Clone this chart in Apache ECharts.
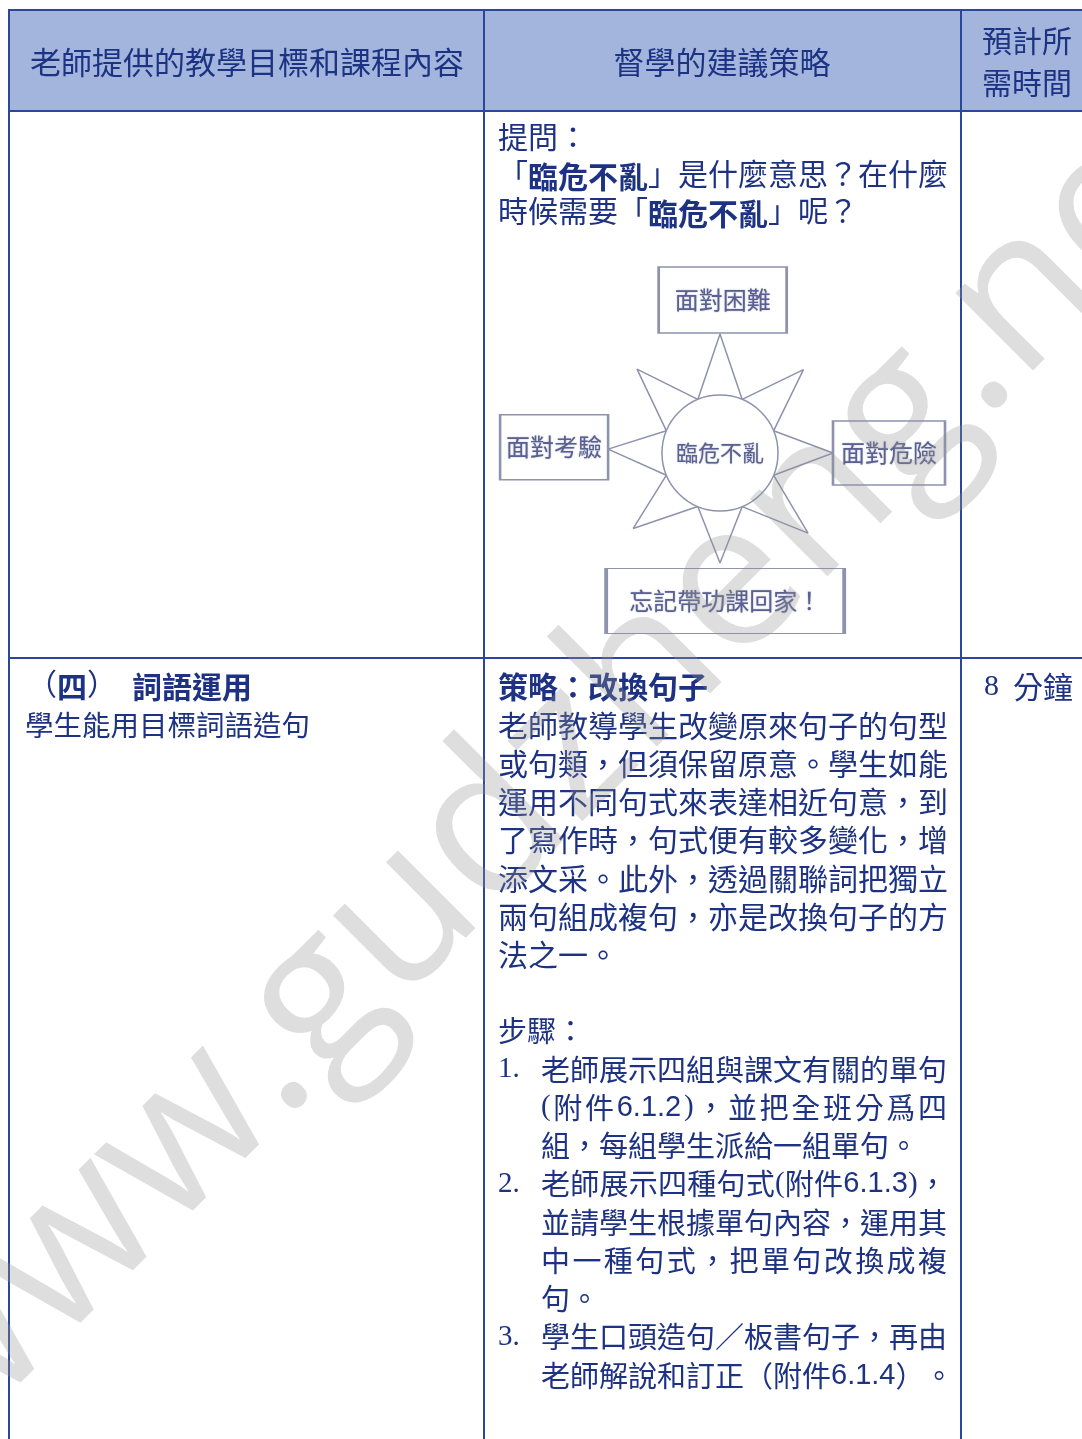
<!DOCTYPE html>
<html><head><meta charset="utf-8">
<script src="https://cdn.jsdelivr.net/npm/echarts@6/dist/echarts.min.js"></script>
<style>html,body{margin:0;padding:0;background:#fff}#c{width:1082px;height:1439px}</style>
</head><body><div id="c"></div>
<script>
// ---------------- content ----------------
const headerTitles = ['老師提供的教學目標和課程內容', '督學的建議策略'];
const headerTime = ['預計所', '需時間'];
const questionLines = ['提問：', '「{b|臨危不亂}」是什麼意思？在什麼', '時候需要「{b|臨危不亂}」呢？'];
const objectiveTitle = '（{b|四}）　{b|詞語運用}';
const objectiveText = '學生能用目標詞語造句';
const strategyTitle = '{b|策略：改換句子}';
const strategyLines = [
  '老師教導學生改變原來句子的句型',
  '或句類，但須保留原意。學生如能',
  '運用不同句式來表達相近句意，到',
  '了寫作時，句式便有較多變化，增',
  '添文采。此外，透過關聯詞把獨立',
  '兩句組成複句，亦是改換句子的方',
  '法之一。'
];
const stepsTitle = '步驟：';
const stepNumbers = ['1.', '2.', '3.'];
const stepLines = [
  ['老師展示四組與課文有關的單句', '(附件6.1.2)，並把全班分爲四', '組，每組學生派給一組單句。'],
  ['老師展示四種句式(附件6.1.3)，', '並請學生根據單句內容，運用其', '中一種句式，把單句改換成複', '句。'],
  ['學生口頭造句／板書句子，再由', '老師解說和訂正（附件6.1.4）。']
];
const timeValue = '8';
const timeUnit = '分鐘';
const centreLabel = '臨危不亂';
const situationLabels = ['面對困難', '面對考驗', '面對危險', '忘記帶功課回家！'];
const situationRadius = [153, 166, 169, 148];
const situationAngle = [89, 178, 0, 272];
const starRadius = [119, 58, 118, 58, 113, 58, 119, 58, 110, 58, 115, 58, 112, 58, 118, 58, 119];
const starAngle = [90, 67.5, 45, 22.5, 0, 337.5, 317.7, 292.5, 270, 247.5, 221, 202.5, 178, 157.5, 134.7, 112.5, 90];
const watermarkText = 'www.gudzheng.net';

// ---------------- styles / layout ----------------
const CJK = '"Noto Sans CJK TC", "Noto Sans CJK SC", sans-serif';
const SERIF = '"Liberation Serif", serif';
const SANS = '"Liberation Sans", sans-serif';
const BODY = '"Liberation Serif", "Noto Sans CJK TC", serif';
const LINE = '#2a479c';
const INK = '#1d3282';
const HEAD_INK = '#1c3384';
const HEAD_FILL = '#a4b5dd';
const DIAG = '#8d92ad';
const DIAG_TXT = '#5a6190';
const boxSizes = [[128, 66], [108, 65], [112, 64], [238, 65]];

const g = [];
function rect(x, y, w, h, fill) { g.push({type: 'rect', silent: true, z: 1, shape: {x, y, width: w, height: h}, style: {fill}}); }
function line(x1, y1, x2, y2, w) { g.push({type: 'line', silent: true, z: 5, shape: {x1, y1, x2, y2}, style: {stroke: LINE, lineWidth: w || 2}}); }
function text(t, x, y, size, opts) {
  opts = opts || {};
  const fill = opts.fill || INK;
  g.push({type: 'text', silent: true, z: 6, style: {
    text: t, x, y, fill,
    font: (opts.weight || 'normal') + ' ' + size + 'px ' + (opts.family || BODY),
    align: opts.align || 'left', verticalAlign: 'middle',
    rich: {
      b: {font: 'bold ' + size + 'px ' + CJK, fill},
      n: {font: 'normal ' + size + 'px ' + BODY, fill}
    }
  }});
}

// justified line renderer: splits a line into tokens and spreads them over a width
const mctx = document.createElement('canvas').getContext('2d');
function fontOf(tok, size) {
  if (/^[0-9.]+$/.test(tok)) return 'normal ' + size + 'px ' + SANS;
  if (/^[()]$/.test(tok)) return 'normal ' + size + 'px ' + SERIF;
  return 'normal ' + size + 'px ' + CJK;
}
function textLine(str, x, y, size, width, justify) {
  const toks = str.match(/[0-9.]+|./gu) || [];
  const ws = toks.map(t => { mctx.font = fontOf(t, size); return mctx.measureText(t).width; });
  const total = ws.reduce((a, b) => a + b, 0);
  const gap = (justify && toks.length > 1) ? (width - total) / (toks.length - 1) : 0;
  let cx = x;
  toks.forEach((t, i) => {
    g.push({type: 'text', silent: true, z: 6, style: {text: t, x: cx, y, fill: INK,
      font: fontOf(t, size), align: 'left', verticalAlign: 'middle'}});
    cx += ws[i] + gap;
  });
}

// header band
rect(9, 10, 1073, 101, HEAD_FILL);
// grid lines
line(8, 10, 1082, 10);
line(8, 111, 1082, 111);
line(8, 658, 1082, 658);
line(9, 9, 9, 1439);
line(484, 9, 484, 1439);
line(961, 9, 961, 1439);

// header text
text(headerTitles[0], 247, 62, 31, {family: CJK, align: 'center', fill: HEAD_INK});
text(headerTitles[1], 722, 62, 31, {family: CJK, align: 'center', fill: HEAD_INK});
text(headerTime[0], 982, 41, 30, {family: CJK, fill: HEAD_INK});
text(headerTime[1], 982, 83, 30, {family: CJK, fill: HEAD_INK});

// row 1
questionLines.forEach((t, i) => text(t, 498, 140 + i * 37, 30));

// row 2
const R2 = 687, LH = 38.25;
text(objectiveTitle, 27, R2, 30);
textLine(objectiveText, 25, R2 + LH, 28.5, 0, false);
text(strategyTitle, 498, R2, 30);
strategyLines.forEach((t, i) => textLine(t, 498, R2 + (i + 1) * LH, 30, 450, i < strategyLines.length - 1));
textLine(stepsTitle, 498, R2 + 9 * LH, 29, 0, false);
let li = 10;
stepLines.forEach((lines, k) => {
  text(stepNumbers[k], 498, R2 + li * LH, 29, {family: SERIF});
  lines.forEach((t, j) => { textLine(t, 541, R2 + li * LH, 29, 406, j < lines.length - 1); li++; });
});
text(timeValue, 984, R2, 30, {family: SERIF});
text(timeUnit, 1013, R2, 30, {family: CJK});

// watermark
g.push({type: 'text', silent: true, z: 100, x: -96, y: 1417, rotation: Math.PI / 4,
  style: {text: watermarkText, x: 0, y: 0, fill: 'rgba(150,150,150,0.31)',
    font: 'normal 205px "Open Sans", sans-serif', align: 'left', verticalAlign: 'middle'}});

// ---------------- diagram ----------------
const starData = starRadius.map((r, i) => [r, starAngle[i]]);
const boxData = situationLabels.map((name, i) => ({
  name, value: [situationRadius[i], situationAngle[i]], symbolSize: boxSizes[i]
}));
const diagLabel = (size) => ({show: true, position: 'inside', formatter: '{b}', color: DIAG_TXT,
  fontSize: size, fontFamily: CJK, textShadowColor: 'rgba(90,97,144,0.6)', textShadowBlur: 1.5});

const chart = echarts.init(document.getElementById('c'), null, {renderer: 'canvas'});
chart.setOption({
  animation: false,
  backgroundColor: '#ffffff',
  polar: {center: [720, 453], radius: 170},
  angleAxis: {type: 'value', min: 0, max: 360, startAngle: 0, clockwise: false,
    axisLine: {show: false}, axisTick: {show: false}, axisLabel: {show: false}, splitLine: {show: false}},
  radiusAxis: {type: 'value', min: 0, max: 170,
    axisLine: {show: false}, axisTick: {show: false}, axisLabel: {show: false}, splitLine: {show: false}},
  series: [
    {type: 'line', coordinateSystem: 'polar', data: starData, symbol: 'none', z: 2,
      lineStyle: {color: DIAG, width: 1.5}, silent: true},
    {type: 'scatter', coordinateSystem: 'polar', z: 3, silent: true,
      data: [{name: centreLabel, value: [0, 0]}], symbol: 'circle', symbolSize: 116,
      itemStyle: {color: '#fff', borderColor: DIAG, borderWidth: 1.5, opacity: 1},
      label: diagLabel(22)},
    {type: 'scatter', coordinateSystem: 'polar', z: 3, silent: true,
      data: boxData, symbol: 'rect',
      itemStyle: {color: '#fff', borderColor: DIAG, borderWidth: 2, opacity: 1},
      label: diagLabel(24)}
  ],
  graphic: g
});
</script>
</body></html>
